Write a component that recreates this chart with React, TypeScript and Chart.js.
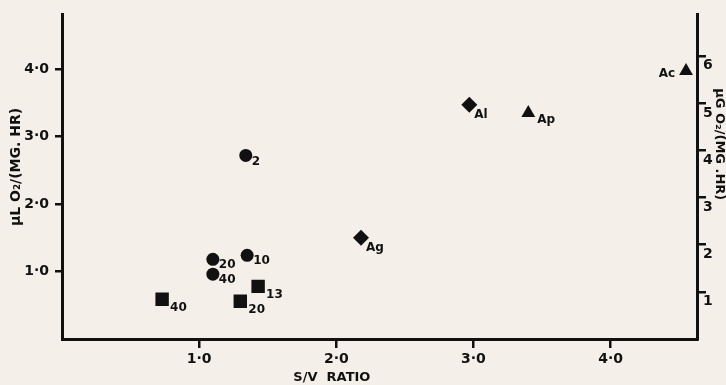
import React, { useEffect, useRef } from 'react';
import { Chart, registerables } from 'chart.js';

Chart.register(...registerables);

// ---- data ----
const circleX = [1.34, 1.10, 1.35, 1.10];
const circleY = [2.72, 1.18, 1.24, 0.96];
const circleLabels = ['2', '20', '10', '40'];

const squareX = [0.73, 1.30, 1.43];
const squareY = [0.59, 0.56, 0.78];
const squareLabels = ['40', '20', '13'];

const diamondX = [2.18, 2.97];
const diamondY = [1.50, 3.47];
const diamondLabels = ['Ag', 'Al'];

const triangleX = [3.40, 4.55];
const triangleY = [3.35, 3.97];
const triangleLabels = ['Ap', 'Ac'];

const xTickValues = [1, 2, 3, 4];
const xTickLabels = ['1·0', '2·0', '3·0', '4·0'];
const yTickValues = [1, 2, 3, 4];
const yTickLabels = ['1·0', '2·0', '3·0', '4·0'];
const y2TickValues = [1, 2, 3, 4, 5, 6];
const y2TickLabels = ['1', '2', '3', '4', '5', '6'];

const X_MIN = 0;
const X_MAX = 4.63;
const Y_MIN = 0;
const Y_MAX = 4.81;
const UL_TO_UG = 1.43; // µL O2 -> µg O2

const xTitle = 'S/V  RATIO';
const yTitle = 'μL O₂/(MG. HR)';
const y2Title = 'μG O₂/(MG .HR)';

const BG = '#f4f0e9';
const INK = '#111111';
const FONT = "'DejaVu Sans', 'Liberation Sans', sans-serif";

const pts = (xs: number[], ys: number[]) => xs.map((x, i) => ({ x, y: ys[i] }));

const bgPlugin = {
  id: 'bg',
  beforeDraw(chart: any) {
    const { ctx, width, height } = chart;
    ctx.save();
    ctx.fillStyle = BG;
    ctx.fillRect(0, 0, width, height);
    ctx.restore();
  },
};

const pointLabelPlugin = {
  id: 'pointLabels',
  afterDatasetsDraw(chart: any) {
    const { ctx, chartArea } = chart;
    ctx.save();
    ctx.fillStyle = INK;
    ctx.font = `bold 12px ${FONT}`;
    ctx.textBaseline = 'middle';
    chart.data.datasets.forEach((ds: any, di: number) => {
      const meta = chart.getDatasetMeta(di);
      const labels: string[] = ds.pointLabels || [];
      const off = ds.labelOffset || { dx: 6, dy: 6 };
      meta.data.forEach((el: any, i: number) => {
        const t = labels[i];
        if (!t) return;
        if (el.x > chartArea.right - 40) {
          ctx.textAlign = 'right';
          ctx.fillText(t, el.x - 11, el.y + 3);
        } else {
          ctx.textAlign = 'left';
          ctx.fillText(t, el.x + off.dx, el.y + off.dy);
        }
      });
    });
    ctx.restore();
  },
};

const titlesPlugin = {
  id: 'axisTitles',
  afterDraw(chart: any) {
    const { ctx, chartArea, width, height } = chart;
    const h = chartArea.bottom - chartArea.top;
    const w = chartArea.right - chartArea.left;
    ctx.save();
    ctx.fillStyle = INK;
    ctx.textAlign = 'center';
    ctx.textBaseline = 'middle';

    // left title
    ctx.save();
    ctx.font = `bold 14px ${FONT}`;
    ctx.translate(16, chartArea.top + h * 0.47);
    ctx.rotate(-Math.PI / 2);
    ctx.fillText(yTitle, 0, 0);
    ctx.restore();

    // right title
    ctx.save();
    ctx.font = `bold 13px ${FONT}`;
    ctx.translate(width - 7, chartArea.top + h * 0.4);
    ctx.rotate(Math.PI / 2);
    ctx.fillText(y2Title, 0, 0);
    ctx.restore();

    // bottom title
    ctx.font = `bold 13px ${FONT}`;
    ctx.fillText(xTitle, chartArea.left + w * 0.425, height - 7);

    ctx.restore();
  },
};

export default function App() {
  const ref = useRef<HTMLCanvasElement | null>(null);

  useEffect(() => {
    if (!ref.current) return;
    const tickFont = { family: FONT, size: 14, weight: 'bold' as const };
    const chart = new Chart(ref.current, {
      type: 'scatter',
      data: {
        datasets: [
          {
            data: pts(circleX, circleY),
            pointStyle: 'circle',
            pointRadius: 6.5,
            backgroundColor: INK,
            borderColor: INK,
            borderWidth: 0,
            pointLabels: circleLabels,
            labelOffset: { dx: 6, dy: 6 },
          } as any,
          {
            data: pts(squareX, squareY),
            pointStyle: 'rect',
            pointRadius: 9.5,
            backgroundColor: INK,
            borderColor: INK,
            borderWidth: 0,
            pointLabels: squareLabels,
            labelOffset: { dx: 8, dy: 9 },
          } as any,
          {
            data: pts(diamondX, diamondY),
            pointStyle: 'rectRot',
            pointRadius: 8,
            backgroundColor: INK,
            borderColor: INK,
            borderWidth: 0,
            pointLabels: diamondLabels,
            labelOffset: { dx: 5, dy: 10 },
          } as any,
          {
            data: pts(triangleX, triangleY),
            pointStyle: 'triangle',
            pointRadius: 8,
            backgroundColor: INK,
            borderColor: INK,
            borderWidth: 0,
            pointLabels: triangleLabels,
            labelOffset: { dx: 9, dy: 7 },
          } as any,
        ],
      },
      options: {
        responsive: false,
        animation: false,
        events: [],
        layout: { padding: { top: 12, left: 0, right: 0, bottom: 0 } },
        plugins: { legend: { display: false }, tooltip: { enabled: false } },
        scales: {
          x: {
            type: 'linear',
            position: 'bottom',
            min: X_MIN,
            max: X_MAX,
            afterBuildTicks: (s: any) => {
              s.ticks = xTickValues.map((v) => ({ value: v }));
            },
            afterFit: (s: any) => {
              s.height = 46;
            },
            ticks: {
              callback: (_v: any, i: number) => xTickLabels[i],
              font: tickFont,
              color: INK,
              padding: 3,
              maxRotation: 0,
              autoSkip: false,
            },
            grid: { drawOnChartArea: false, tickLength: 9, lineWidth: 2.5, color: INK },
            border: { color: INK, width: 3 },
          },
          y: {
            type: 'linear',
            position: 'left',
            min: Y_MIN,
            max: Y_MAX,
            afterBuildTicks: (s: any) => {
              s.ticks = yTickValues.map((v) => ({ value: v }));
            },
            afterFit: (s: any) => {
              s.width = 62;
            },
            ticks: {
              callback: (_v: any, i: number) => yTickLabels[i],
              font: tickFont,
              color: INK,
              padding: 6,
              autoSkip: false,
            },
            grid: { drawOnChartArea: false, tickLength: 7, lineWidth: 2.5, color: INK },
            border: { color: INK, width: 3 },
          },
          y2: {
            type: 'linear',
            position: 'right',
            min: Y_MIN * UL_TO_UG,
            max: Y_MAX * UL_TO_UG,
            afterBuildTicks: (s: any) => {
              s.ticks = y2TickValues.map((v) => ({ value: v }));
            },
            afterFit: (s: any) => {
              s.width = 29;
            },
            ticks: {
              callback: (_v: any, i: number) => y2TickLabels[i],
              font: tickFont,
              color: INK,
              padding: -3,
              labelOffset: 10,
              autoSkip: false,
            },
            grid: { drawOnChartArea: false, tickLength: 9, lineWidth: 2.5, color: INK },
            border: { color: INK, width: 3 },
          },
        },
      } as any,
      plugins: [bgPlugin, pointLabelPlugin, titlesPlugin],
    });
    return () => chart.destroy();
  }, []);

  return (
    <div style={{ position: 'fixed', left: 0, top: 0, width: 726, height: 385, background: BG }}>
      <canvas ref={ref} width={726} height={385} style={{ display: 'block' }} />
    </div>
  );
}
